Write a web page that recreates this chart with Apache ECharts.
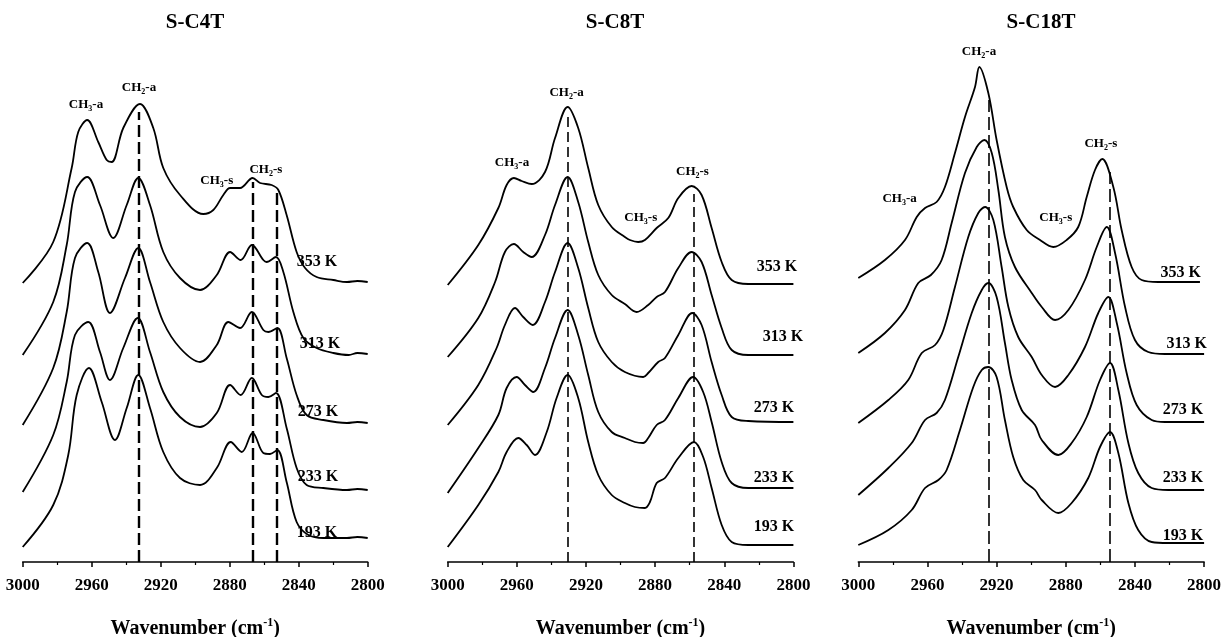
<!DOCTYPE html>
<html><head><meta charset="utf-8">
<script src="https://cdn.jsdelivr.net/npm/echarts@6/dist/echarts.min.js"></script>
<style>html,body{margin:0;padding:0;background:#fff}#c{width:1229px;height:637px}</style>
</head><body><div id="c"></div>
<script>
// ---------- data ----------
const panelTitles = ['S-C4T', 'S-C8T', 'S-C18T'];
const temperatures = ['353 K', '313 K', '273 K', '233 K', '193 K'];
const xTickStep = 40; // 3000, 2960, ... 2800

// S-C4T spectra [wavenumber, absorbance (offset)]
const c4_353 = [[3000,2.79],[2982.3,3.20],[2971.6,3.94],[2967.8,4.30],[2962.6,4.42],[2956.2,4.20],[2951.3,4.02],[2948.4,4.00],[2941.7,4.34],[2932,4.58],[2924.3,4.34],[2918.5,3.94],[2908.8,3.67],[2895.3,3.48],[2889.5,3.52],[2883.7,3.67],[2879.8,3.74],[2874,3.74],[2866.7,3.84],[2862.4,3.79],[2855.7,3.77],[2851.8,3.72],[2847,3.47],[2841.2,3.10],[2836.3,2.94],[2829.6,2.85],[2819.9,2.82],[2812,2.80],[2806,2.81],[2800,2.80]];
const c4_313 = [[3000,2.07],[2982.3,2.60],[2974.5,3.17],[2969.7,3.70],[2962.6,3.85],[2955.2,3.57],[2947.5,3.24],[2939.7,3.57],[2933,3.84],[2926.2,3.57],[2918.5,3.10],[2908.8,2.84],[2897.2,2.72],[2887.5,2.87],[2879.8,3.10],[2873.6,3.02],[2867.2,3.17],[2860.5,3.02],[2858.6,3.00],[2853.2,3.05],[2848.9,2.90],[2843.1,2.50],[2837.3,2.24],[2829.6,2.14],[2819.9,2.09],[2811,2.07],[2806,2.09],[2800,2.08]];
const c4_273 = [[3000,1.37],[2982.3,1.94],[2974.5,2.50],[2969.7,3.04],[2962.6,3.19],[2956.2,2.90],[2949.4,2.49],[2940.7,2.84],[2933,3.14],[2926.2,2.80],[2918.5,2.40],[2908.8,2.14],[2897.2,2.00],[2887.5,2.17],[2880.8,2.40],[2874,2.34],[2867.2,2.50],[2860.5,2.32],[2857.6,2.30],[2852.4,2.34],[2847,2.04],[2841.2,1.67],[2835.4,1.47],[2825.7,1.42],[2812,1.39],[2806,1.40],[2800,1.39]];
const c4_233 = [[3000,0.70],[2982.3,1.27],[2974.5,1.80],[2969.7,2.27],[2962,2.40],[2955.2,2.10],[2949.4,1.82],[2941.7,2.14],[2933.3,2.44],[2926.2,2.10],[2918.5,1.70],[2908.8,1.45],[2897.2,1.35],[2887.5,1.49],[2879.8,1.77],[2873.6,1.67],[2867.2,1.84],[2861.4,1.67],[2857.6,1.65],[2853.2,1.69],[2847,1.34],[2841.2,0.94],[2835.4,0.77],[2825.7,0.74],[2812,0.72],[2806,0.73],[2800,0.72]];
const c4_193 = [[3000,0.15],[2982.3,0.57],[2973.6,1.07],[2968.7,1.67],[2961.6,1.94],[2954.2,1.60],[2946.5,1.22],[2939.7,1.54],[2933,1.87],[2926.2,1.54],[2918.5,1.10],[2908.8,0.84],[2897.2,0.77],[2887.5,0.94],[2879.4,1.20],[2873,1.10],[2866.7,1.29],[2860.5,1.09],[2856.6,1.08],[2852.4,1.12],[2847,0.80],[2841.2,0.40],[2834.4,0.27],[2825.7,0.24],[2812,0.24],[2806,0.25],[2800,0.24]];

// S-C8T spectra
const c8_353 = [[3000,2.77],[2982.3,3.17],[2970.7,3.54],[2965.9,3.77],[2961.7,3.84],[2957.2,3.81],[2951.4,3.78],[2943.7,3.90],[2937.9,4.24],[2930.6,4.55],[2924.5,4.34],[2918.7,3.94],[2912.9,3.57],[2905.1,3.35],[2897.5,3.25],[2894.6,3.22],[2889.8,3.20],[2885.9,3.22],[2879.1,3.34],[2872.4,3.44],[2866.6,3.64],[2858.9,3.76],[2853.1,3.67],[2847.3,3.34],[2841.5,3.00],[2835.7,2.82],[2826.1,2.78],[2800,2.78]];
const c8_313 = [[3000,2.05],[2982.3,2.44],[2972.6,2.80],[2966.9,3.10],[2961.7,3.18],[2956.3,3.10],[2951.4,3.05],[2943.7,3.27],[2937.9,3.57],[2930.6,3.85],[2924.5,3.60],[2918.7,3.20],[2912.9,2.87],[2905.1,2.67],[2897.5,2.58],[2890.7,2.50],[2884,2.57],[2879.1,2.65],[2874.3,2.70],[2866.6,2.94],[2858.9,3.10],[2853.1,3.00],[2847.3,2.67],[2841.5,2.34],[2835.7,2.12],[2826.1,2.07],[2800,2.07]];
const c8_273 = [[3000,1.37],[2982.3,1.77],[2971.7,2.14],[2966.9,2.37],[2961.1,2.54],[2956.3,2.45],[2950.8,2.37],[2943.7,2.60],[2937.9,2.90],[2930.6,3.19],[2924.5,2.94],[2918.7,2.54],[2912.9,2.20],[2905.1,2.00],[2897.5,1.90],[2886.9,1.85],[2884,1.89],[2878.2,2.00],[2874.3,2.04],[2866.6,2.27],[2858.5,2.49],[2853.1,2.37],[2847.3,2.00],[2841.5,1.67],[2835.7,1.45],[2826.1,1.41],[2800,1.40]];
const c8_233 = [[3000,0.69],[2982.3,1.14],[2970.7,1.47],[2965.9,1.74],[2960.1,1.85],[2955.3,1.77],[2950.5,1.70],[2943.7,1.94],[2937.9,2.24],[2930.6,2.52],[2924.5,2.27],[2918.7,1.87],[2912.9,1.50],[2905.1,1.30],[2897.5,1.24],[2891.7,1.20],[2886.9,1.19],[2884,1.24],[2879.1,1.37],[2874.3,1.42],[2866.6,1.64],[2858,1.85],[2852.2,1.70],[2847.3,1.40],[2841.5,1.00],[2835.7,0.79],[2826.1,0.74],[2800,0.74]];
const c8_193 = [[3000,0.15],[2982.3,0.57],[2970.7,0.90],[2965.9,1.10],[2959.2,1.24],[2954.3,1.17],[2949.5,1.07],[2942.7,1.30],[2937,1.64],[2930.6,1.87],[2924.5,1.64],[2918.7,1.20],[2912.9,0.87],[2905.1,0.67],[2897.5,0.59],[2891.7,0.55],[2885.9,0.54],[2883,0.60],[2879.1,0.79],[2874.3,0.84],[2866.6,1.04],[2857.5,1.20],[2852.2,1.05],[2847.3,0.74],[2841.5,0.37],[2835.7,0.20],[2826.1,0.17],[2800,0.17]];

// S-C18T spectra
const c18_353 = [[3000,2.84],[2984.6,3.02],[2973,3.22],[2966.2,3.45],[2961.4,3.54],[2954.7,3.60],[2949.9,3.75],[2944.1,4.09],[2938.3,4.45],[2932.5,4.75],[2930,4.95],[2924.8,4.69],[2920,4.22],[2914.2,3.75],[2910.4,3.55],[2902.6,3.32],[2894.9,3.22],[2887.2,3.15],[2879.5,3.22],[2872.8,3.35],[2867.9,3.65],[2863.1,3.92],[2858.9,4.03],[2852.5,3.75],[2847.7,3.32],[2841.9,2.95],[2836.1,2.82],[2826.5,2.80],[2802.4,2.80]];
const c18_313 = [[3000,2.09],[2984.6,2.29],[2973,2.52],[2965.3,2.79],[2958,2.87],[2951.8,3.02],[2946,3.39],[2938.3,3.89],[2931.5,4.15],[2927.1,4.22],[2922.8,4.09],[2919,3.72],[2915.2,3.25],[2909.4,2.95],[2899.7,2.69],[2893.9,2.55],[2886.2,2.42],[2878.5,2.52],[2868.9,2.82],[2862.1,3.15],[2856.3,3.35],[2851.5,3.09],[2845.7,2.55],[2840,2.22],[2832.3,2.10],[2822.6,2.08],[2800,2.08]];
const c18_273 = [[3000,1.39],[2982.6,1.62],[2971.1,1.82],[2963.3,2.09],[2955.6,2.17],[2950.8,2.32],[2944.1,2.75],[2936.4,3.25],[2930.6,3.49],[2926.7,3.55],[2921.9,3.42],[2917.1,2.95],[2913.2,2.55],[2907.5,2.25],[2899.7,2.05],[2893.9,1.87],[2886.2,1.75],[2878.5,1.87],[2868.9,2.15],[2861.2,2.49],[2855.4,2.65],[2850.5,2.39],[2844.8,1.89],[2839,1.57],[2830.3,1.42],[2822.6,1.40],[2800,1.40]];
const c18_233 = [[3000,0.67],[2982.6,0.94],[2969.1,1.19],[2961.4,1.42],[2954.7,1.49],[2949.9,1.62],[2942.2,2.05],[2934.4,2.49],[2928.6,2.72],[2924.8,2.79],[2920,2.65],[2915.2,2.19],[2911.3,1.82],[2905.5,1.52],[2897.8,1.37],[2893.9,1.22],[2884.3,1.07],[2876.6,1.19],[2867.9,1.45],[2860.2,1.82],[2854.4,1.99],[2849.6,1.72],[2843.8,1.19],[2838.1,0.89],[2830.3,0.74],[2820.7,0.72],[2800,0.72]];
const c18_193 = [[3000,0.17],[2982.6,0.32],[2969.1,0.52],[2961.4,0.74],[2953.7,0.82],[2948.9,0.92],[2941.2,1.32],[2933.5,1.75],[2928.6,1.92],[2924.8,1.95],[2920,1.85],[2915.2,1.42],[2910.4,1.05],[2904.6,0.82],[2897.8,0.72],[2893.9,0.62],[2884.3,0.49],[2876.6,0.59],[2867,0.84],[2860.2,1.15],[2854.4,1.30],[2849.6,1.09],[2843.8,0.59],[2838.1,0.32],[2830.3,0.20],[2820.7,0.19],[2800,0.19]];

// dashed guide lines: [wavenumber, top value]
const c4_guides = [[2933, 4.50], [2866.7, 3.80], [2852.5, 3.70]];
const c8_guides = [[2930.4, 4.50], [2857.7, 3.68]];
const c18_guides = [[2924.8, 4.62], [2854.8, 3.90]];

// band labels: [wavenumber, value, text]
const c4_bands = [[2963.3, 4.57, 'CH3-a'], [2932.6, 4.74, 'CH2-a'], [2887.5, 3.81, 'CH3-s'], [2859, 3.92, 'CH2-s']];
const c8_bands = [[2962.8, 3.99, 'CH3-a'], [2931.2, 4.69, 'CH2-a'], [2888.3, 3.44, 'CH3-s'], [2858.4, 3.90, 'CH2-s']];
const c18_bands = [[2976.1, 3.63, 'CH3-a'], [2930.2, 5.10, 'CH2-a'], [2885.8, 3.44, 'CH3-s'], [2859.7, 4.18, 'CH2-s']];

// temperature label anchors [wavenumber, value], order as temperatures
const c4_tempPos = [[2829.4, 3.00], [2827.7, 2.18], [2828.8, 1.50], [2828.8, 0.85], [2829.4, 0.29]];
const c8_tempPos = [[2809.5, 2.95], [2806.1, 2.25], [2811.3, 1.54], [2811.3, 0.84], [2811.3, 0.35]];
const c18_tempPos = [[2813.5, 2.89], [2810.1, 2.18], [2812.2, 1.52], [2812.2, 0.84], [2812.2, 0.26]];

// ---------- build ----------
const panels = [
  {spectra: [c4_353, c4_313, c4_273, c4_233, c4_193], guides: c4_guides, bands: c4_bands, tempPos: c4_tempPos,
   grid: {left: 22.7, width: 345}, dash: {width: 2.4, type: [12, 5]}, titleX: 195},
  {spectra: [c8_353, c8_313, c8_273, c8_233, c8_193], guides: c8_guides, bands: c8_bands, tempPos: c8_tempPos,
   grid: {left: 447.7, width: 345.7}, dash: {width: 1.6, type: [10, 5]}, titleX: 615},
  {spectra: [c18_353, c18_313, c18_273, c18_233, c18_193], guides: c18_guides, bands: c18_bands, tempPos: c18_tempPos,
   grid: {left: 858.3, width: 345.8}, dash: {width: 1.6, type: [13, 5]}, titleX: 1041}
];

const serif = "'Liberation Serif', 'Times New Roman', serif";
const grids = [], xAxes = [], yAxes = [], series = [], graphics = [];

function bandRich(t) {
  return t.replace(/CH(\d)-(\w)/, '{m|CH}{s|$1}{m|-$2}');
}
const noBorder = {textBorderWidth: 0, textBorderColor: 'transparent', textShadowBlur: 0, opacity: 1};

panels.forEach((p, i) => {
  grids.push({left: p.grid.left, width: p.grid.width, top: 42, bottom: 75, containLabel: false, outerBoundsMode: 'none'});
  xAxes.push({
    type: 'value', gridIndex: i, min: 2800, max: 3000, interval: xTickStep, inverse: true,
    axisLine: {show: true, lineStyle: {color: '#000', width: 1.5}},
    axisTick: {show: true, length: 5, lineStyle: {color: '#000', width: 1.5}},
    minorTick: {show: true, splitNumber: 2, length: 3, lineStyle: {color: '#000', width: 1.2}},
    splitLine: {show: false},
    axisLabel: {color: '#000', fontFamily: serif, fontWeight: 'bold', fontSize: 17, margin: 15,
      showMinLabel: true, showMaxLabel: true, formatter: v => String(v)},
    name: '{n|Wavenumber (cm}{sup|-1}{n|)}',
    nameLocation: 'middle', nameGap: 55,
    nameTextStyle: {rich: {
      n: {fontFamily: serif, fontWeight: 'bold', fontSize: 20, color: '#000', lineHeight: 24},
      sup: {fontFamily: serif, fontWeight: 'bold', fontSize: 12, color: '#000', verticalAlign: 'top', lineHeight: 12}
    }}
  });
  yAxes.push({type: 'value', gridIndex: i, min: 0, max: 5.2, show: false});

  p.spectra.forEach((d, k) => {
    const s = {
      type: 'line', xAxisIndex: i, yAxisIndex: i, data: d, showSymbol: false,
      smooth: 0.35, silent: true, animation: false,
      lineStyle: {color: '#000', width: 1.8}
    };
    if (k === 0) {
      s.markLine = {
        silent: true, symbol: ['none', 'none'], animation: false,
        label: {show: false},
        lineStyle: {color: '#000', width: p.dash.width, type: p.dash.type},
        data: p.guides.map(g => [{coord: [g[0], 0]}, {coord: [g[0], g[1]]}])
      };
    }
    series.push(s);
  });

  // band labels
  series.push({
    type: 'scatter', xAxisIndex: i, yAxisIndex: i, symbolSize: 1, silent: true, animation: false, z: 5,
    itemStyle: {color: 'rgba(255,255,255,0)'},
    data: p.bands.map(b => ({value: [b[0], b[1]], name: b[2]})),
    label: Object.assign({
      show: true, position: 'inside', color: '#000',
      formatter: prm => bandRich(prm.name),
      rich: {
        m: Object.assign({fontFamily: serif, fontWeight: 'bold', fontSize: 13, color: '#000', lineHeight: 15}, noBorder),
        s: Object.assign({fontFamily: serif, fontWeight: 'bold', fontSize: 8, color: '#000', verticalAlign: 'bottom', lineHeight: 8}, noBorder)
      }
    }, noBorder)
  });
  // temperature labels
  series.push({
    type: 'scatter', xAxisIndex: i, yAxisIndex: i, symbolSize: 1, silent: true, animation: false, z: 5,
    itemStyle: {color: 'rgba(255,255,255,0)'},
    data: p.tempPos.map((pos, k) => ({value: pos, name: temperatures[k]})),
    label: Object.assign({
      show: true, position: 'inside', color: '#000', formatter: prm => prm.name,
      fontFamily: serif, fontWeight: 'bold', fontSize: 16
    }, noBorder)
  });

  graphics.push({
    type: 'text', x: p.titleX, y: 23, silent: true,
    style: {text: panelTitles[i], fill: '#000', font: "bold 21px 'Liberation Serif', serif", textAlign: 'center', textVerticalAlign: 'middle'}
  });
});

const chart = echarts.init(document.getElementById('c'), null, {renderer: 'canvas'});
chart.setOption({
  backgroundColor: '#fff',
  animation: false,
  grid: grids, xAxis: xAxes, yAxis: yAxes, series: series, graphic: graphics
});
</script>
</body></html>
